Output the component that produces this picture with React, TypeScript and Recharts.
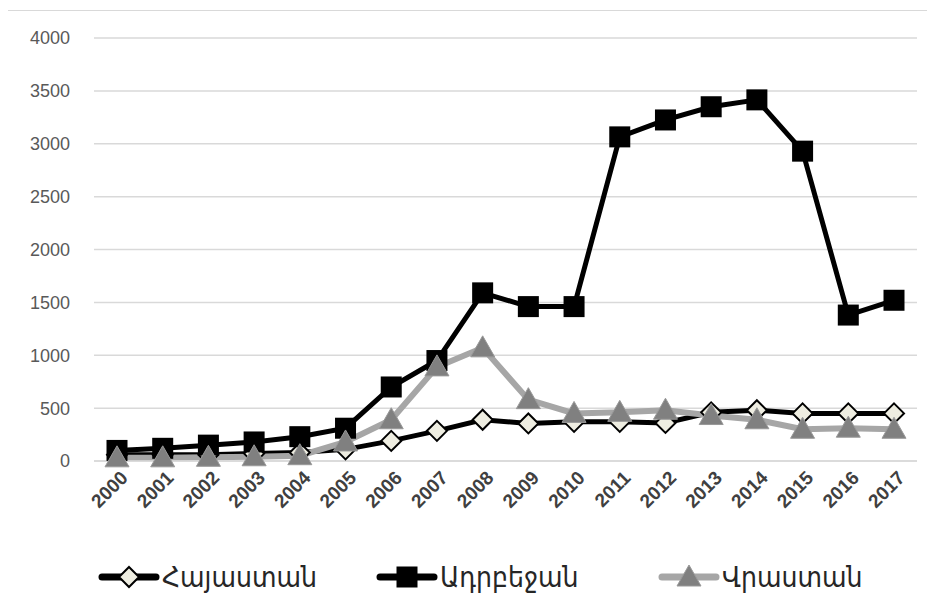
import { LineChart, Line, XAxis, YAxis, CartesianGrid } from 'recharts';

const years = ['2000', '2001', '2002', '2003', '2004', '2005', '2006', '2007', '2008', '2009', '2010', '2011', '2012', '2013', '2014', '2015', '2016', '2017'];
const armenia = [60, 60, 60, 70, 80, 110, 190, 285, 390, 355, 370, 370, 360, 460, 480, 450, 450, 450];
const azerbaijan = [100, 120, 150, 180, 230, 310, 700, 950, 1590, 1460, 1460, 3065, 3225, 3350, 3415, 2930, 1380, 1520];
const georgia = [30, 30, 35, 40, 50, 180, 390, 890, 1070, 580, 450, 460, 480, 430, 390, 300, 310, 300];
const yTicks = [0, 500, 1000, 1500, 2000, 2500, 3000, 3500, 4000];
const seriesNames = ['Հայաստան', 'Ադրբեջան', 'Վրաստան'];

const data = years.map((y, i) => ({ year: y, arm: armenia[i], aze: azerbaijan[i], geo: georgia[i] }));

const FONT = '"Liberation Sans", "DejaVu Sans", sans-serif';
const LEGEND_FONT = '"DejaVu Sans Condensed", "DejaVu Sans", sans-serif';

const diamond = (cx: number, cy: number, r = 10) => (
  <polygon
    points={`${cx},${cy - r} ${cx + r},${cy} ${cx},${cy + r} ${cx - r},${cy}`}
    fill="#EEEDE1"
    stroke="#000"
    strokeWidth={2}
  />
);
const square = (cx: number, cy: number, r = 10.5) => (
  <rect x={cx - r} y={cy - r} width={r * 2} height={r * 2} fill="#000" />
);
const triangle = (cx: number, cy: number, r = 12) => (
  <polygon
    points={`${cx},${cy - r} ${cx + r},${cy + r * 0.75} ${cx - r},${cy + r * 0.75}`}
    fill="#808080"
    stroke="#999"
    strokeWidth={1}
  />
);

const dotOf = (shape: (cx: number, cy: number) => any) => (p: any) => (
  <g key={`d-${p.index}`}>{shape(p.cx, p.cy)}</g>
);

const XTick = ({ x, y, payload }: any) => {
  const ax = x + 12;
  const ay = y + 10;
  return (
    <text
      x={ax}
      y={ay}
      transform={`rotate(-45 ${ax} ${ay})`}
      textAnchor="end"
      fontSize={19}
      fontWeight="bold"
      fill="#404040"
      fontFamily={FONT}
    >
      {payload.value}
    </text>
  );
};

const legendItems = [
  { name: seriesNames[0], color: '#000', shape: diamond, left: 98 },
  { name: seriesNames[1], color: '#000', shape: square, left: 376 },
  { name: seriesNames[2], color: '#A6A6A6', shape: triangle, left: 658 },
];

export default function App() {
  return (
    <div style={{ position: 'relative', left: -8, top: -8, width: 935, height: 610, overflow: 'hidden', background: '#fff' }}>
      <div
        style={{
          position: 'absolute',
          left: 4,
          top: 10,
          width: 940,
          height: 620,
          border: '1.5px solid #D9D9D9',
          boxSizing: 'border-box',
        }}
      />
      <div style={{ position: 'absolute', left: 0, top: 0 }}>
        <LineChart width={935} height={610} data={data} margin={{ top: 38, right: 18, left: 34, bottom: 89 }}>
          <CartesianGrid vertical={false} stroke="#D9D9D9" strokeWidth={1.5} />
          <XAxis
            dataKey="year"
            interval={0}
            height={60}
            padding={{ left: 23, right: 23 }}
            axisLine={{ stroke: '#D9D9D9', strokeWidth: 1.5 }}
            tickLine={false}
            tick={<XTick />}
          />
          <YAxis
            domain={[0, 4000]}
            ticks={yTicks}
            width={60}
            axisLine={false}
            tickLine={false}
            tickMargin={18}
            tick={{ fontSize: 18, fill: '#595959', fontFamily: FONT }}
          />
          <Line
            dataKey="arm"
            name={seriesNames[0]}
            stroke="#000"
            strokeWidth={5}
            dot={dotOf(diamond)}
            activeDot={false}
            isAnimationActive={false}
          />
          <Line
            dataKey="aze"
            name={seriesNames[1]}
            stroke="#000"
            strokeWidth={5}
            dot={dotOf(square)}
            activeDot={false}
            isAnimationActive={false}
          />
          <Line
            dataKey="geo"
            name={seriesNames[2]}
            stroke="#A6A6A6"
            strokeWidth={6}
            dot={dotOf(triangle)}
            activeDot={false}
            isAnimationActive={false}
          />
        </LineChart>
      </div>
      {legendItems.map((it) => (
        <div
          key={it.name}
          style={{ position: 'absolute', left: it.left, top: 560, display: 'flex', alignItems: 'center' }}
        >
          <svg width={62} height={34}>
            <line x1={4} y1={17} x2={58} y2={17} stroke={it.color} strokeWidth={7} strokeLinecap="round" />
            {it.shape(31, 17)}
          </svg>
          <span style={{ fontFamily: LEGEND_FONT, fontSize: 28, color: '#262626', marginLeft: 2 }}>{it.name}</span>
        </div>
      ))}
    </div>
  );
}
